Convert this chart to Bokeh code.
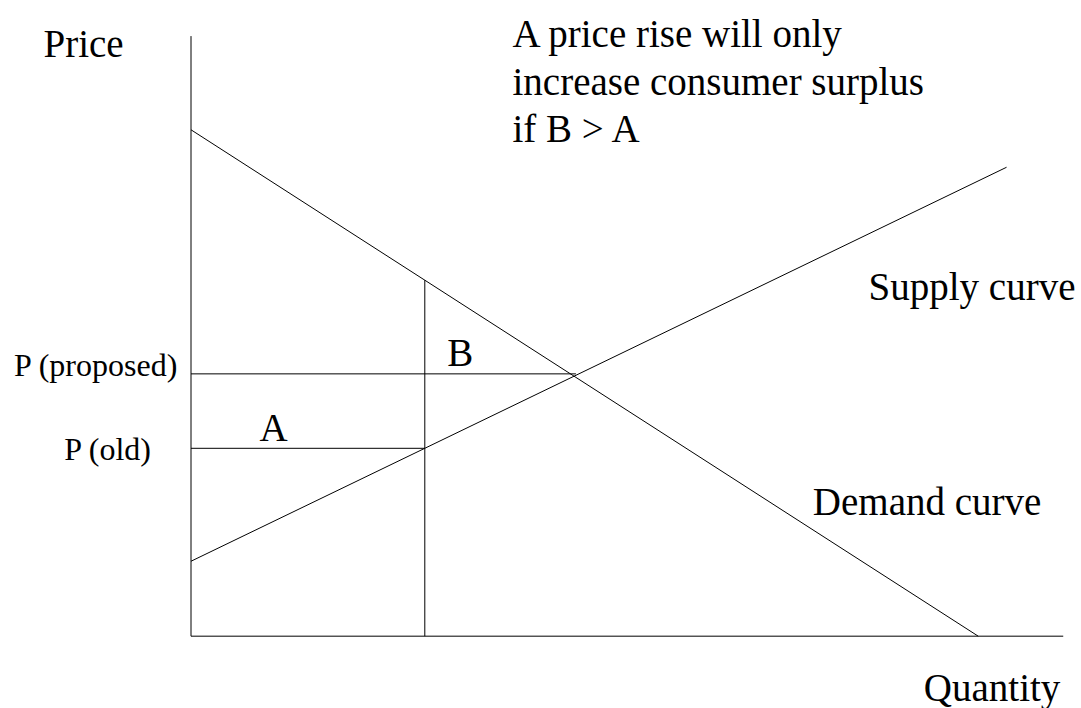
from bokeh.plotting import figure
from bokeh.models import Range1d
from bokeh.core.properties import value
from bokeh.embed import file_html
from bokeh.resources import INLINE

# ---- data (price / quantity units) ----
demand_q = [0, 100]
demand_p = [100, 0]
supply_q = [0, 103.6]
supply_p = [14.8, 92.6]
q_old = 29.7
p_old = 37.1
p_proposed = 51.8
q_proposed_end = 48.9
axis_q_max = 110.8
axis_p_max = 118.5

# ---- annotation texts and positions (data units) ----
title_lines = ["A price rise will only", "increase consumer surplus", "if B > A"]
title_x = 40.84
title_y = [118.96, 109.54, 100.2]

big_labels = ["Price", "Supply curve", "Demand curve", "Quantity", "B", "A"]
big_x = [-18.74, 86.07, 78.99, 93.09, 32.55, 8.70]
big_y = [116.98, 69.06, 26.6, -10.2, 56.08, 41.21]

tick_labels = ["P (proposed)", "P (old)"]
tick_x = [-1.59, -4.93]
tick_y = [53.59, 37.0]

FONT = value("Liberation Serif")

p = figure(width=1081, height=708, output_backend="svg", toolbar_location=None,
           x_range=Range1d(-24.20, 113.12), y_range=Range1d(-14.28, 125.53),
           min_border=0)
p.axis.visible = False
p.grid.visible = False
p.outline_line_color = None
p.border_fill_color = "white"
p.background_fill_color = "white"

# axes
p.line([0, 0], [0, axis_p_max], line_color="black", line_width=1)
p.line([0, axis_q_max], [0, 0], line_color="black", line_width=1)

# curves
p.line(demand_q, demand_p, line_color="black", line_width=1)
p.line(supply_q, supply_p, line_color="black", line_width=1)

# vertical at old quantity up to demand
p.line([q_old, q_old], [0, demand_p[0] - q_old * (demand_p[0] - demand_p[1]) / (demand_q[1] - demand_q[0])],
       line_color="black", line_width=1)
# price lines
p.line([0, q_proposed_end], [p_proposed, p_proposed], line_color="black", line_width=1)
p.line([0, q_old], [p_old, p_old], line_color="black", line_width=1)

# texts
p.text(x=[title_x] * 3, y=title_y, text=title_lines, text_font=FONT,
       text_font_size="39px", text_align="left", text_baseline="alphabetic",
       text_color="black")
p.text(x=big_x, y=big_y, text=big_labels, text_font=FONT,
       text_font_size="39px", text_align="left", text_baseline="alphabetic",
       text_color="black")
p.text(x=tick_x, y=tick_y, text=tick_labels, text_font=FONT,
       text_font_size="32px", text_align="right", text_baseline="alphabetic",
       text_color="black")

open("out.html", "w").write(file_html(p, INLINE))
